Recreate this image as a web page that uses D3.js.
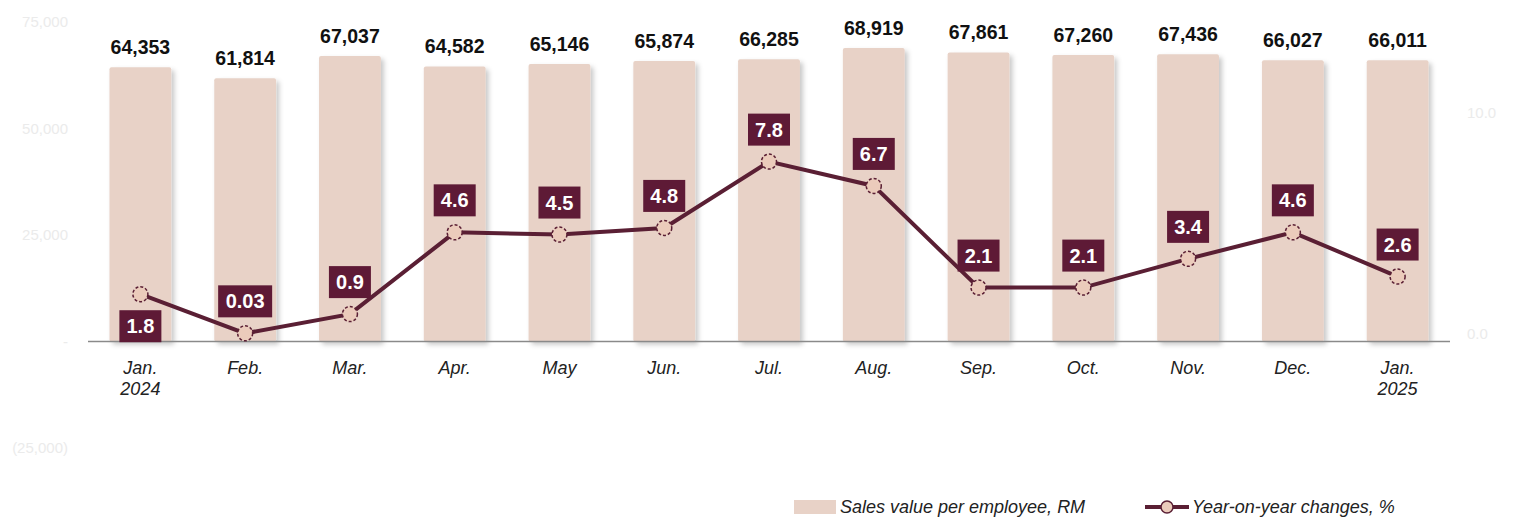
<!DOCTYPE html>
<html>
<head>
<meta charset="utf-8">
<script src="https://cdn.jsdelivr.net/npm/d3@7/dist/d3.min.js"></script>
<style>
  body { margin: 0; background: #fff; }
  svg { font-family: "Liberation Sans", Arial, sans-serif; }
</style>
</head>
<body>
<div id="chart"></div>
<script>
// dados do grafico
let months = ['Jan.|2024', 'Feb.', 'Mar.', 'Apr.', 'May', 'Jun.', 'Jul.', 'Aug.', 'Sep.', 'Oct.', 'Nov.', 'Dec.', 'Jan.|2025'];
let salesPerEmployee = [64353, 61814, 67037, 64582, 65146, 65874, 66285, 68919, 67861, 67260, 67436, 66027, 66011];
let yoyChange = [1.8, 0.03, 0.9, 4.6, 4.5, 4.8, 7.8, 6.7, 2.1, 2.1, 3.4, 4.6, 2.6];
let yoyLabels = ['1.8', '0.03', '0.9', '4.6', '4.5', '4.8', '7.8', '6.7', '2.1', '2.1', '3.4', '4.6', '2.6'];
let leftTicks = [75000, 50000, 25000, 0, -25000];
let leftTickLabels = ['75,000', '50,000', '25,000', '-', '(25,000)'];
let rightTicks = [10, 0];
let rightTickLabels = ['10.0', '0.0'];
let legendLabels = ['Sales value per employee, RM', 'Year-on-year changes, %'];

let width = 1515;
let height = 517;

let svg = d3.select('#chart').append('svg').attr('width', width).attr('height', height);

// sombra das barras
let defs = svg.append('defs');
let filt = defs.append('filter').attr('id', 'shadow').attr('x', '-20%').attr('y', '-5%').attr('width', '150%').attr('height', '115%');
filt.append('feDropShadow').attr('dx', 3).attr('dy', 3).attr('stdDeviation', 2.5)
    .attr('flood-color', '#000').attr('flood-opacity', 0.22);

// escalas
let x = d3.scaleBand().domain(d3.range(months.length)).range([88, 1450]).paddingInner(0.41).paddingOuter(0.205);
let yLeft = d3.scaleLinear().domain([-25000, 75000]).range([448, 22]);
let yRight = d3.scaleLinear().domain([0, 10]).range([334, 113]);

// eixo esquerdo (quase invisivel)
let leftAxis = d3.axisLeft(yLeft).tickValues(leftTicks).tickSize(0).tickPadding(0)
    .tickFormat(function (d, i) { return leftTickLabels[i]; });
let gl = svg.append('g').attr('transform', 'translate(68,0)').call(leftAxis);
gl.select('.domain').remove();
gl.selectAll('text').attr('fill', '#ebebeb').style('font-size', '15px');

// eixo direito (quase invisivel)
let rightAxis = d3.axisRight(yRight).tickValues(rightTicks).tickSize(0).tickPadding(0)
    .tickFormat(function (d, i) { return rightTickLabels[i]; });
let gr = svg.append('g').attr('transform', 'translate(1467,0)').call(rightAxis);
gr.select('.domain').remove();
gr.selectAll('text').attr('fill', '#ebebeb').style('font-size', '15px');

// barras
svg.selectAll('rect.bar')
    .data(salesPerEmployee)
    .enter().append('rect')
        .attr('class', 'bar')
        .attr('x', function (d, i) { return x(i); })
        .attr('y', function (d) { return yLeft(d); })
        .attr('width', x.bandwidth())
        .attr('height', function (d) { return yLeft(0) - yLeft(d); })
        .attr('rx', 2)
        .attr('fill', '#e8d2c7')
        .attr('filter', 'url(#shadow)');

// linha de base
svg.append('line')
    .attr('x1', 88).attr('x2', 1450)
    .attr('y1', yLeft(0)).attr('y2', yLeft(0))
    .attr('stroke', '#8a8a8a').attr('stroke-width', 1.5);

// valores das barras
svg.selectAll('text.barval')
    .data(salesPerEmployee)
    .enter().append('text')
        .attr('class', 'barval')
        .attr('x', function (d, i) { return x(i) + x.bandwidth() / 2; })
        .attr('y', function (d) { return yLeft(d) - 13; })
        .attr('text-anchor', 'middle')
        .style('font-size', '19.5px').style('font-weight', 'bold')
        .attr('fill', '#111')
        .text(function (d) { return d3.format(',')(d); });

// rotulos do eixo x
let xl = svg.selectAll('text.xlab')
    .data(months)
    .enter().append('text')
        .attr('class', 'xlab')
        .attr('x', function (d, i) { return x(i) + x.bandwidth() / 2; })
        .attr('y', 374)
        .attr('text-anchor', 'middle')
        .style('font-size', '18px').style('font-style', 'italic')
        .attr('fill', '#222');
xl.each(function (d) {
  let parts = d.split('|');
  let t = d3.select(this);
  parts.forEach(function (p, k) {
    t.append('tspan').attr('x', t.attr('x')).attr('dy', k == 0 ? 0 : 21).text(p);
  });
});

// linha de variacao
let cx = function (d, i) { return x(i) + x.bandwidth() / 2; };
let line = d3.line()
    .x(function (d, i) { return x(i) + x.bandwidth() / 2; })
    .y(function (d) { return yRight(d); });

svg.append('path')
    .attr('fill', 'none')
    .attr('stroke', '#5a1f34')
    .attr('stroke-width', 4)
    .attr('d', line(yoyChange));

svg.selectAll('circle.pt')
    .data(yoyChange)
    .enter().append('circle')
        .attr('class', 'pt')
        .attr('cx', cx)
        .attr('cy', function (d) { return yRight(d); })
        .attr('r', 7.5)
        .attr('fill', '#ebcbbb')
        .attr('stroke', '#5a1f34')
        .attr('stroke-width', 1.5)
        .attr('stroke-dasharray', '3,2');

// caixas com os valores da linha
let boxes = svg.selectAll('g.box')
    .data(yoyChange)
    .enter().append('g')
        .attr('class', 'box')
        .attr('transform', function (d, i) {
          let off = i == 0 ? 32 : -32;
          return 'translate(' + cx(d, i) + ',' + (yRight(d) + off) + ')';
        });
boxes.append('rect')
    .attr('x', function (d, i) { return yoyLabels[i].length > 3 ? -27 : -21; })
    .attr('y', -16)
    .attr('width', function (d, i) { return yoyLabels[i].length > 3 ? 54 : 42; })
    .attr('height', 32)
    .attr('fill', '#5e1a36');
boxes.append('text')
    .attr('text-anchor', 'middle')
    .attr('y', 7)
    .style('font-size', '20px').style('font-weight', 'bold')
    .attr('fill', '#fff')
    .text(function (d, i) { return yoyLabels[i]; });

// legenda
let lg = svg.append('g').attr('transform', 'translate(0,507)');
lg.append('rect').attr('x', 794).attr('y', -7).attr('width', 42).attr('height', 14).attr('fill', '#e8d2c7');
lg.append('text').attr('x', 840).attr('y', 6)
    .style('font-size', '18px').style('font-style', 'italic').attr('fill', '#222')
    .text(legendLabels[0]);
lg.append('line').attr('x1', 1145).attr('x2', 1189).attr('y1', 0).attr('y2', 0)
    .attr('stroke', '#5a1f34').attr('stroke-width', 4);
lg.append('circle').attr('cx', 1167).attr('cy', 0).attr('r', 6)
    .attr('fill', '#ebcbbb').attr('stroke', '#5a1f34').attr('stroke-width', 1.5);
lg.append('text').attr('x', 1192).attr('y', 6)
    .style('font-size', '18px').style('font-style', 'italic').attr('fill', '#222')
    .text(legendLabels[1]);
</script>
</body>
</html>
